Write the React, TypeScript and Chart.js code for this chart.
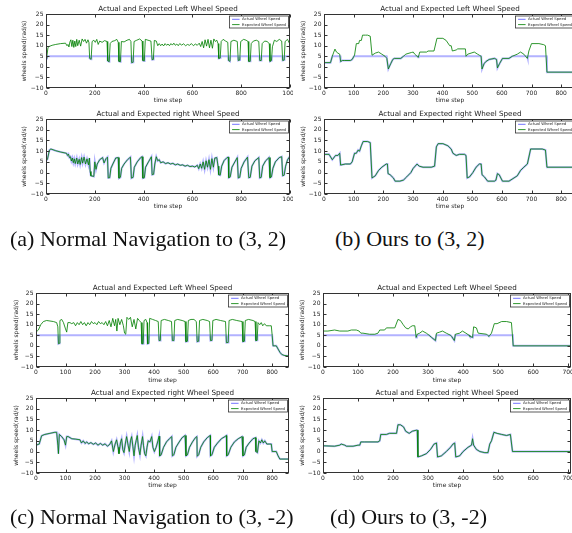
import React, { useEffect, useRef } from "react";
import { Chart, registerables } from "chart.js";

Chart.register(...registerables);

type Pt = [number, number];

// ---------- text ----------
const TITLE_LEFT = "Actual and Expected Left Wheel Speed";
const TITLE_RIGHT = "Actual and Expected right Wheel Speed";
const LEGEND_LABELS = ["Actual Wheel Speed", "Expected Wheel Speed"];
const X_LABEL = "time step";
const Y_LABEL = "wheels speed(rad/s)";
const CAPTIONS = [
  "(a) Normal Navigation to (3, 2)",
  "(b) Ours to (3, 2)",
  "(c) Normal Navigation to (3, -2)",
  "(d) Ours to (3, -2)",
];
const Y_TICKS = [-10, -5, 0, 5, 10, 15, 20, 25];
const X_TICKS_A = [0, 200, 400, 600, 800, 1000];
const X_TICKS_B = [0, 100, 200, 300, 400, 500, 600, 700, 800];
const X_TICKS_C = [0, 100, 200, 300, 400, 500, 600, 700, 800];
const X_TICKS_D = [0, 100, 200, 300, 400, 500, 600, 700];

// ---------- (a) Normal Navigation to (3, 2) ----------
const aLeftExpected: Pt[] = [[0,4],[4,5.5],[8,9],[12,9.6],[25,10.2],[40,10.6],[60,11],[80,11.2],[86,10],[90,10.6],[94,9.4],[98,11.8],[102,12.8],[106,9.6],[110,12.6],[114,9.2],[118,12.2],[122,9.6],[126,13],[130,10],[136,12.6],[142,9.8],[148,13.2],[154,12],[160,13],[166,11.2],[172,12.8],[176,11.5],[179,4],[185,3.6],[189,12],[196,12.6],[202,11.6],[208,13],[214,10.6],[220,12.2],[230,11.6],[240,12.4],[250,12],[253,2.8],[259,2.4],[263,11],[270,12],[282,12.4],[290,13],[296,11.6],[299,2.6],[305,2.4],[309,12],[320,11.8],[332,12.6],[342,13],[348,12],[351,2],[357,2.2],[361,12],[372,12.6],[384,13.2],[394,12.2],[397,3],[403,2.8],[407,13],[418,12.6],[430,12.2],[435,3.4],[440,3.5],[444,12.5],[452,12.2],[458,10],[464,11],[470,10],[476,10.8],[482,9.9],[488,11],[494,10.2],[500,10.8],[506,10],[512,11],[518,10.3],[524,11.2],[530,10.2],[536,10.8],[542,10],[548,11],[556,10.3],[564,10.9],[572,10],[580,10.6],[588,10.2],[596,11],[604,10],[612,10.8],[620,10.2],[628,11.2],[634,9.6],[640,12],[646,9],[652,12.8],[658,9.8],[664,13],[670,9],[676,12.6],[682,8.8],[688,13.2],[694,12],[700,12.6],[705,11],[708,4],[714,4.2],[718,12],[726,13],[736,12.2],[745,11.6],[748,3],[754,2.6],[758,12],[770,12.6],[784,12],[788,3],[794,3.2],[798,12],[810,13],[820,12.6],[828,12],[831,2.6],[837,2.6],[841,11],[850,12.2],[862,12.6],[872,12],[876,3],[882,3],[886,11],[896,12.2],[906,12],[915,11],[918,2.6],[924,3],[928,9.5],[936,12.6],[946,12],[956,13],[966,12.2],[970,3],[976,3.2],[980,12],[990,13],[996,11.5],[1000,12.5]];
const aLeftActual: Pt[] = [[0,4],[4,5],[178,5],[179,4],[185,3.6],[186,5],[252,5],[253,2.8],[259,2.4],[260,5],[298,5],[299,2.6],[305,2.4],[306,5],[350,5],[351,2],[357,2.2],[358,5],[396,5],[397,3],[403,2.8],[404,5],[434,5],[435,3.4],[440,3.5],[441,5],[707,5],[708,4],[714,4.2],[715,5],[747,5],[748,3],[754,2.6],[755,5],[787,5],[788,3],[794,3.2],[795,5],[830,5],[831,2.6],[837,2.6],[838,5],[875,5],[876,3],[882,3],[883,5],[917,5],[918,2.6],[924,3],[925,5],[969,5],[970,3],[976,3.2],[977,5],[1000,5]];
// right wheel: actual and expected coincide
const aRight: Pt[] = [[0,5.5],[6,6.2],[14,10.5],[20,11],[40,10.2],[60,9.6],[84,9],[88,8],[92,8.6],[96,7],[100,7.4],[104,5.4],[108,6.8],[112,4.6],[116,6.4],[120,4.2],[126,6.8],[130,4],[136,6.2],[140,3.8],[146,7],[150,4.4],[156,7.2],[162,4],[168,6.4],[174,3.6],[178,6.8],[181,0.5],[184,-1.5],[196,-1.8],[200,5],[205,1.5],[210,4],[220,6],[232,7],[238,4.5],[246,6.5],[252,7.2],[255,-2.5],[261,-2.4],[266,2],[274,4],[286,6.8],[296,7],[299,-2.6],[305,-2.2],[310,2],[320,4],[334,6],[346,7.2],[350,-2.6],[357,-2.2],[362,2.5],[374,5],[388,7],[394,7.4],[397,-2.6],[403,-2.4],[408,2.5],[420,5],[432,7.4],[435,-1],[441,-0.8],[446,4],[452,7.4],[458,5.5],[464,6],[470,4.6],[480,5],[490,4.2],[500,4.6],[510,4],[520,4.3],[530,3.6],[540,4],[550,3.4],[560,3.6],[570,3],[580,3.4],[590,2.8],[600,3],[610,2.6],[620,3.4],[626,1.8],[632,4],[638,2],[644,5],[650,1.5],[656,5.5],[662,2.5],[668,6],[674,1.5],[680,6.5],[686,2.5],[692,6.8],[700,7],[705,3],[708,-1],[714,-1.2],[720,3],[730,5.6],[742,7],[747,7.2],[749,-2.4],[755,-2],[762,2.5],[774,5],[784,7],[788,-2.5],[794,-2.2],[800,2],[812,5],[826,7.2],[831,-2.4],[837,-2.2],[844,3],[856,5.5],[872,7],[876,-2.5],[882,-2.2],[888,3],[900,5.5],[914,7],[918,-2.4],[924,-2],[930,2],[940,5],[956,7],[966,7.4],[970,-1.5],[976,-1.2],[982,3],[990,6],[996,7],[1000,5.5]];

// ---------- (b) Ours to (3, 2) ----------
const bLeftExpected: Pt[] = [[0,2],[22,2],[28,5],[33,7],[37,8.4],[42,7],[47,6.5],[53,6],[56,2.5],[62,3],[70,3],[89,3],[95,3.5],[103,5.5],[109,11],[117,11],[120,12.5],[126,12.5],[130,15],[140,15],[147,15],[156,14.5],[162,5.5],[173,6.5],[184,7],[195,6],[206,5],[212,4],[217,-1],[225,1.5],[232,3.5],[237,4],[259,4],[268,5],[276,6],[295,6.8],[301,7],[306,6],[314,5],[318,4.5],[323,7],[346,7],[351,7.5],[371,7.5],[381,13.5],[401,13.5],[412,12.5],[424,10],[429,10],[433,7.5],[446,8],[451,8.5],[477,8.5],[479,5],[485,6],[496,6.5],[507,7],[518,6],[524,5.5],[530,5],[533,-1],[540,1.5],[546,2.5],[557,3.5],[575,4],[582,3.5],[585,-0.5],[592,1.5],[602,4],[624,4],[635,5],[652,6],[663,7],[674,6],[686,4],[691,7.5],[700,11],[725,11],[741,10.5],[747,10],[752,-2.5],[850,-2.5]];
const bLeftActual: Pt[] = [[0,2],[22,2],[28,5],[55,5],[56,2.5],[62,3],[89,3],[95,3.5],[101,5],[211,5],[212,4],[217,-1],[225,1.5],[232,3.5],[237,4],[259,4],[268,5],[317,5],[318,4.5],[319,5],[530,5],[533,-1],[540,1.5],[546,2.5],[557,3.5],[575,4],[582,3.5],[585,-0.5],[592,1.5],[602,4],[624,4],[635,5],[685,5],[686,4],[688,5],[751,5],[752,-2.5],[850,-2.5]];
const bRight: Pt[] = [[0,8.5],[17,8.5],[28,6],[39,8],[47,8],[53,9],[56,3.5],[72,4],[89,4],[95,5],[103,9],[109,9],[115,10.5],[120,10],[126,12.5],[132,14.5],[147,14.5],[156,14],[162,-2.5],[173,-1.5],[184,1],[195,2.5],[210,4],[214,4],[216,-0.5],[223,-1],[234,-2.5],[240,-4],[256,-4],[268,-3.5],[279,-2],[293,0],[301,2],[314,4],[321,3],[334,2.5],[362,2.5],[373,3],[379,12],[385,13.5],[401,13.5],[418,12.5],[429,11],[435,9],[446,8],[457,8.5],[474,8.5],[479,8],[483,-2.5],[491,-2],[502,0],[513,2.5],[524,4],[530,4],[533,-1],[541,-2],[552,-4],[575,-4],[580,-3.5],[585,-0.5],[591,-1],[602,-4],[624,-4],[641,-2.5],[652,-1.5],[663,1],[674,2.5],[686,4],[697,11],[736,11],[747,10.5],[752,2.5],[850,2.5]];

// ---------- (c) Normal Navigation to (3, -2) ----------
const cLeftExpected: Pt[] = [[0,6.5],[8,7.5],[16,10],[25,11.5],[36,12],[59,11.5],[70,11],[74,9],[76,1],[79,1.2],[81,12],[87,12.5],[93,11],[100,8],[104,6.5],[108,11],[115,11],[121,10.5],[128,11],[134,9.5],[140,11],[146,10],[152,11.5],[158,10],[164,11],[170,9.5],[176,11],[182,10],[188,11.5],[194,10.5],[200,11],[206,10],[212,11.5],[218,10.5],[224,11],[230,10],[236,11.5],[242,9.5],[248,12],[254,9],[260,13],[266,9.5],[270,12.5],[274,7],[278,13],[284,10],[290,12.5],[296,9.5],[300,6],[304,5.5],[308,13.5],[314,12.5],[320,13.5],[326,9],[332,12.5],[338,8],[344,13],[350,12],[356,11],[359,1],[363,1],[366,12],[372,12.5],[376,11],[378,1],[382,1.2],[385,13],[395,12.5],[405,12],[414,11.5],[417,2.5],[421,2.5],[424,12],[435,12.5],[448,12],[459,11.5],[462,2.5],[467,2.5],[470,12],[480,12.5],[495,12],[505,11.5],[508,2],[513,2.2],[516,12],[525,12.5],[535,12.5],[543,11.5],[546,2],[551,2.2],[554,12],[565,12.5],[580,12],[588,11.5],[591,2.5],[596,2.6],[599,12],[610,12.5],[625,12],[642,11.5],[645,1.5],[651,1.6],[654,12],[665,12.5],[680,12],[698,11.5],[701,2],[706,2.2],[709,12],[720,12.5],[735,12],[742,11.5],[745,2.5],[749,2.6],[752,11],[758,10],[763,11],[768,9.5],[774,10.5],[780,9.5],[790,9.5],[797,9.5],[800,5],[803,0],[814,0],[820,-1.5],[826,-3],[832,-4],[840,-4.5],[857,-4.8]];
const cLeftActual: Pt[] = [[0,5],[75,5],[76,1],[79,1.2],[80,5],[358,5],[359,1],[363,1],[364,5],[377,5],[378,1],[382,1.2],[383,5],[416,5],[417,2.5],[421,2.5],[422,5],[461,5],[462,2.5],[467,2.5],[468,5],[507,5],[508,2],[513,2.2],[514,5],[545,5],[546,2],[551,2.2],[552,5],[590,5],[591,2.5],[596,2.6],[597,5],[644,5],[645,1.5],[651,1.6],[652,5],[700,5],[701,2],[706,2.2],[707,5],[744,5],[745,2.5],[749,2.6],[750,5],[800,5],[803,0],[814,0],[820,-1.5],[826,-3],[832,-4],[840,-4.5],[857,-4.8]];
const cRight: Pt[] = [[0,3],[11,3.5],[19,7.4],[30,8],[47,8.5],[64,9],[70,9],[74,3],[76,-1],[79,8],[87,7],[95,5.5],[100,3],[104,7],[109,7],[121,6],[135,5.8],[149,5.5],[154,4],[160,5],[166,3.8],[172,4.5],[178,3.6],[186,4.2],[194,3.4],[202,4],[210,3],[218,3.8],[226,3],[234,3.6],[242,2.5],[250,3.4],[256,5],[262,0],[268,3.5],[273,5.5],[278,2],[281,-1],[286,4],[290,6],[294,1],[298,-0.5],[303,4],[307,7],[312,3],[316,0],[320,5],[324,7],[328,2.5],[332,-2],[336,3],[339,5],[343,7.5],[347,2],[352,-1.5],[356,3],[361,7],[364,3],[368,-1],[372,-2],[376,2],[380,5],[386,4.5],[392,7],[396,2],[401,0],[407,2],[413,5],[417,7.2],[419,-2],[424,-1.5],[432,2],[442,4.5],[452,6],[460,7],[462,-2],[467,-1.5],[474,2],[485,4.5],[495,6.5],[505,7.5],[508,-2],[513,-1.5],[520,2],[530,4.5],[540,6.5],[545,7],[546,-2.2],[551,-1.5],[558,2],[568,4.5],[580,6.5],[590,7.5],[591,-2],[596,-1.5],[604,2],[615,4],[628,6],[640,7],[645,7.5],[646,-2],[651,-1.5],[660,2],[672,4.5],[685,6],[698,7],[701,-2],[706,-1.5],[712,2],[722,4],[735,6],[744,6.5],[745,0],[750,-0.5],[755,5],[760,4],[765,5.5],[770,4],[775,5],[782,3.5],[790,3.5],[797,3.5],[800,0],[814,0],[820,-2],[826,-3.5],[857,-3.5]];

// ---------- (d) Ours to (3, -2) ----------
const dLeftExpected: Pt[] = [[0,7],[14,7],[33,7.5],[48,7],[71,7],[81,7.5],[95,7.5],[103,7],[108,6],[114,6],[133,5.5],[148,5.5],[157,6],[162,7.5],[176,7.5],[181,8.5],[205,8.5],[214,12.5],[221,12],[229,10],[236,8.5],[243,8],[250,9],[255,9.5],[262,9.5],[266,4],[269,5.5],[276,6],[284,7],[295,6],[303,5],[310,4],[321,2.5],[324,6],[333,6.5],[341,7],[352,6],[364,5],[367,4.5],[375,2.5],[378,5.5],[390,6],[398,7],[408,6],[417,5],[419,4.5],[427,4],[430,9],[438,8.5],[443,6],[467,5.5],[470,5],[474,4.5],[481,6],[489,10.5],[497,10.5],[510,11.5],[524,11.5],[538,11],[543,0],[708,0]];
const dLeftActual: Pt[] = [[0,5],[265,5],[266,4],[268,5],[303,5],[310,4],[321,2.5],[323,5],[364,5],[367,4.5],[375,2.5],[377,5],[417,5],[419,4.5],[427,4],[428,5],[470,5],[474,4.5],[477,5],[542,5],[543,0],[708,0]];
const dRight: Pt[] = [[0,2.7],[33,2.5],[48,3],[52,3.5],[62,3],[67,2.5],[86,2.5],[100,3],[105,3],[108,4.5],[119,4.5],[157,4.5],[162,5],[165,8],[181,8],[190,8.5],[210,8.5],[214,12.5],[221,12.5],[230,11.5],[236,9.5],[246,8.5],[255,9.5],[267,10],[269,10],[271,-2.5],[281,-2],[295,-1],[307,1],[317,3.5],[324,4],[327,-2.5],[338,-2],[352,0],[364,2],[371,3.5],[376,4],[379,-2.5],[390,-2],[400,0],[414,2],[424,3],[427,6],[430,3],[438,1],[448,0],[462,-0.5],[471,-0.5],[476,3.5],[481,5],[488,9],[497,8.5],[510,8],[524,7.5],[535,8],[541,0],[708,0]];

// ---------- styling ----------
const BLUE = "rgba(0,0,255,0.3)";
const BLUE_LEGEND = "rgba(0,0,255,0.55)";
const GREEN = "rgba(0,128,0,0.82)";
const TEXT = "#222";
const FRAME = "#333";
const SANS = '"DejaVu Sans", sans-serif';

interface PanelCfg {
  left: number; top: number; right: number; bottom: number;
  yTitleX: number; xHeight: number; xMax: number; xTicks: number[];
  title: string; expected: Pt[]; actual: Pt[]; clipW?: number;
}

const PANELS: PanelCfg[] = [
  { left: 46, top: 14, right: 290, bottom: 88, yTitleX: 25, xHeight: 16, xMax: 1000, xTicks: X_TICKS_A, title: TITLE_LEFT, expected: aLeftExpected, actual: aLeftActual, clipW: 293 },
  { left: 46, top: 119, right: 290, bottom: 194, yTitleX: 25, xHeight: 16, xMax: 1000, xTicks: X_TICKS_A, title: TITLE_RIGHT, expected: aRight, actual: aRight, clipW: 293 },
  { left: 324, top: 14, right: 576, bottom: 88, yTitleX: 304, xHeight: 16, xMax: 850, xTicks: X_TICKS_B, title: TITLE_LEFT, expected: bLeftExpected, actual: bLeftActual },
  { left: 324, top: 119, right: 576, bottom: 194, yTitleX: 304, xHeight: 16, xMax: 850, xTicks: X_TICKS_B, title: TITLE_RIGHT, expected: bRight, actual: bRight },
  { left: 36, top: 293, right: 289, bottom: 367, yTitleX: 17, xHeight: 17, xMax: 857, xTicks: X_TICKS_C, title: TITLE_LEFT, expected: cLeftExpected, actual: cLeftActual },
  { left: 36, top: 398, right: 289, bottom: 473, yTitleX: 17, xHeight: 16, xMax: 857, xTicks: X_TICKS_C, title: TITLE_RIGHT, expected: cRight, actual: cRight },
  { left: 323, top: 293, right: 571, bottom: 367, yTitleX: 303, xHeight: 17, xMax: 708, xTicks: X_TICKS_D, title: TITLE_LEFT, expected: dLeftExpected, actual: dLeftActual },
  { left: 323, top: 398, right: 571, bottom: 473, yTitleX: 303, xHeight: 16, xMax: 708, xTicks: X_TICKS_D, title: TITLE_RIGHT, expected: dRight, actual: dRight },
];

const fmt = (v: number) => (v < 0 ? "\u2212" + Math.abs(v) : String(v));
const toXY = (pts: Pt[]) => pts.map(([x, y]) => ({ x, y }));

const PAD_TOP = 10;
const PAD_RIGHT = 14;

function Panel({ cfg }: { cfg: PanelCfg }) {
  const ref = useRef<HTMLCanvasElement>(null);
  const canvasLeft = Math.round(cfg.yTitleX - 3.6);
  const canvasTop = cfg.top - PAD_TOP;
  const width = cfg.right - canvasLeft + PAD_RIGHT;
  const height = cfg.bottom + cfg.xHeight - canvasTop;

  useEffect(() => {
    if (!ref.current) return;
    const framePlugin = {
      id: "mplFrame",
      afterDatasetsDraw(chart: any) {
        const { ctx, chartArea: a, scales } = chart;
        ctx.save();
        const l = Math.round(a.left) + 0.5, t = Math.round(a.top) + 0.5;
        const r = Math.round(a.right) - 0.5, b = Math.round(a.bottom) - 0.5;
        ctx.strokeStyle = FRAME;
        ctx.lineWidth = 1;
        ctx.strokeRect(l, t, r - l, b - t);
        ctx.beginPath();
        for (const v of cfg.xTicks) {
          const px = Math.round(scales.x.getPixelForValue(v)) + 0.5;
          ctx.moveTo(px, b); ctx.lineTo(px, b - 3);
          ctx.moveTo(px, t); ctx.lineTo(px, t + 3);
        }
        for (const v of Y_TICKS) {
          const py = Math.round(scales.y.getPixelForValue(v)) + 0.5;
          ctx.moveTo(l, py); ctx.lineTo(l + 3, py);
          ctx.moveTo(r, py); ctx.lineTo(r - 3, py);
        }
        ctx.stroke();
        // title
        ctx.fillStyle = TEXT;
        ctx.font = `7.2px ${SANS}`;
        ctx.textAlign = "center";
        ctx.textBaseline = "middle";
        ctx.fillText(cfg.title, (a.left + a.right) / 2, a.top - 5);
        // legend
        const fs = 3.8;
        ctx.font = `${fs}px ${SANS}`;
        const tw = Math.max(...LEGEND_LABELS.map((s) => ctx.measureText(s).width));
        const bw = 13 + tw + 2;
        const bh = 12;
        const bx = a.right - 1.5 - bw;
        const by = a.top + 2;
        ctx.fillStyle = "#fff";
        ctx.fillRect(bx, by, bw, bh);
        ctx.strokeStyle = FRAME;
        ctx.lineWidth = 0.8;
        ctx.strokeRect(bx, by, bw, bh);
        const rows = [by + 3.3, by + 8.6];
        const cols = [BLUE_LEGEND, GREEN];
        rows.forEach((ry, i) => {
          ctx.strokeStyle = cols[i];
          ctx.lineWidth = 1;
          ctx.beginPath();
          ctx.moveTo(bx + 2.5, ry);
          ctx.lineTo(bx + 10, ry);
          ctx.stroke();
          ctx.fillStyle = TEXT;
          ctx.textAlign = "left";
          ctx.textBaseline = "middle";
          ctx.fillText(LEGEND_LABELS[i], bx + 12.5, ry);
        });
        ctx.restore();
      },
    };

    const tickFont = { family: SANS, size: 6 };
    const chart = new Chart(ref.current, {
      type: "line",
      data: {
        datasets: [
          { label: LEGEND_LABELS[0], data: toXY(cfg.actual), borderColor: BLUE, borderWidth: 2, pointRadius: 0, tension: 0, fill: false, order: 1 },
          { label: LEGEND_LABELS[1], data: toXY(cfg.expected), borderColor: GREEN, borderWidth: 1, pointRadius: 0, tension: 0, fill: false, order: 0 },
        ],
      } as any,
      options: {
        responsive: false,
        animation: false,
        devicePixelRatio: 1,
        events: [],
        layout: { padding: { left: 0, top: PAD_TOP, right: PAD_RIGHT, bottom: 0 } },
        plugins: { legend: { display: false }, tooltip: { enabled: false }, title: { display: false } },
        scales: {
          x: {
            type: "linear",
            min: 0,
            max: cfg.xMax,
            grid: { display: false, drawTicks: false },
            border: { display: false },
            afterBuildTicks: (s: any) => { s.ticks = cfg.xTicks.map((v) => ({ value: v })); },
            ticks: { font: tickFont, color: TEXT, padding: 2, maxRotation: 0, autoSkip: false, callback: (v: any) => fmt(Number(v)) },
            title: { display: true, text: X_LABEL, font: tickFont, color: TEXT, padding: 0 },
            afterFit: (s: any) => { s.height = cfg.xHeight; },
          },
          y: {
            type: "linear",
            min: -10,
            max: 25,
            grid: { display: false, drawTicks: false },
            border: { display: false },
            afterBuildTicks: (s: any) => { s.ticks = Y_TICKS.map((v) => ({ value: v })); },
            ticks: { font: tickFont, color: TEXT, padding: 2.5, autoSkip: false, callback: (v: any) => fmt(Number(v)) },
            title: { display: true, text: Y_LABEL, font: tickFont, color: TEXT, padding: 0 },
            afterFit: (s: any) => { s.width = cfg.left - canvasLeft; },
          },
        },
      } as any,
      plugins: [framePlugin],
    });
    return () => chart.destroy();
  }, []);

  const canvas = (
    <canvas
      ref={ref}
      width={width}
      height={height}
      style={{ position: "absolute", left: canvasLeft, top: canvasTop, width, height }}
    />
  );
  if (cfg.clipW) {
    return (
      <div style={{ position: "absolute", left: 0, top: 0, width: cfg.clipW, height: 533, overflow: "hidden" }}>
        {canvas}
      </div>
    );
  }
  return canvas;
}

const CAPTION_POS = [
  { left: 10, baseline: 246 },
  { left: 335, baseline: 246 },
  { left: 10, baseline: 524 },
  { left: 330, baseline: 524 },
];

export default function App() {
  return (
    <div style={{ position: "absolute", left: 0, top: 0, width: 572, height: 533, overflow: "hidden", background: "#fff" }}>
      {PANELS.map((p, i) => (
        <Panel key={i} cfg={p} />
      ))}
      {CAPTIONS.map((c, i) => (
        <div
          key={"c" + i}
          style={{
            position: "absolute",
            left: CAPTION_POS[i].left,
            top: CAPTION_POS[i].baseline - 18.4,
            fontFamily: '"Liberation Serif", "Times New Roman", serif',
            fontSize: 22,
            lineHeight: "22px",
            whiteSpace: "pre",
            color: "#111",
          }}
        >
          {c}
        </div>
      ))}
    </div>
  );
}
